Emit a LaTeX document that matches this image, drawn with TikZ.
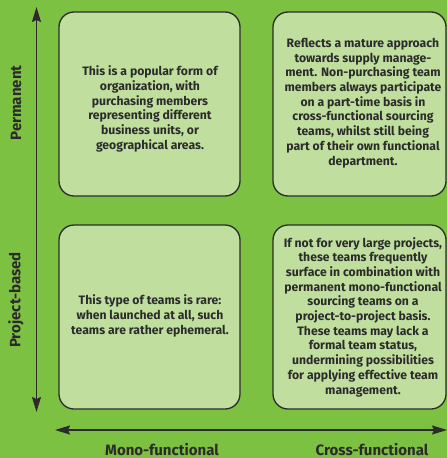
\documentclass[tikz,border=0pt]{standalone}
\usepackage{fontspec}
\setmainfont{Fira Sans}
\usetikzlibrary{arrows.meta}
\definecolor{bggreen}{HTML}{7DC142}
\definecolor{boxgreen}{HTML}{C0DF9F}
\definecolor{ink}{HTML}{2B2B2B}
\tikzset{
  cell/.style={draw=ink, line width=1.3pt, fill=boxgreen, rounded corners=15pt, inner sep=0pt},
  celltext/.style={text=ink, font=\fontsize{12.2}{14.7}\selectfont\bfseries, align=center},
  axislabel/.style={text=ink, font=\fontsize{15}{17}\selectfont\bfseries, inner sep=0pt},
  axis/.style={draw=ink, line width=1.4pt, {Stealth[length=15pt,width=9pt,inset=2pt]}-{Stealth[length=15pt,width=9pt,inset=2pt]}}
}
\begin{document}
\begin{tikzpicture}[x=1pt,y=-1pt]
\fill[bggreen] (0,0) rectangle (447,458);
\useasboundingbox (0,0) rectangle (447,458);
% boxes
\draw[cell] (59,12) rectangle (240,196);
\draw[cell] (273,12) rectangle (446,196);
\draw[cell] (59,225) rectangle (240,409);
\draw[cell] (273,225) rectangle (446,409);
\node[celltext] (t1) at (150,109) {This is a popular form of\\organization, with\\purchasing members\\representing different\\business units, or\\geographical areas.};
\node[celltext] (t2) at (363,103) {Reflects a mature approach\\towards supply manage-\\ment. Non-purchasing team\\members always participate\\on a part-time basis in\\cross-functional sourcing\\teams, whilst still being\\part of their own functional\\department.};
\node[celltext] (t3) at (150,316) {This type of teams is rare:\\when launched at all, such\\teams are rather ephemeral.};
\node[celltext] (t4) at (363,317) {If not for very large projects,\\these teams frequently\\surface in combination with\\permanent mono-functional\\sourcing teams on a\\project-to-project basis.\\These teams may lack a\\formal team status,\\undermining possibilities\\for applying effective team\\management.};
% axes
\coordinate (vtop) at (36.5,7);
\coordinate (vbot) at (36.5,412);
\coordinate (hleft) at (55,430);
\coordinate (hright) at (447,430);
\draw[axis] (vbot) -- (vtop);
\draw[axis] (hleft) -- (hright);
\node[axislabel, rotate=90] (perm) at (16,103) {Permanent};
\node[axislabel, rotate=90] (proj) at (16,300) {Project-based};
\node[axislabel, anchor=base] (mono) at (162,455) {Mono-functional};
\node[axislabel, anchor=base] (cross) at (372,455) {Cross-functional};
\end{tikzpicture}
\end{document}
